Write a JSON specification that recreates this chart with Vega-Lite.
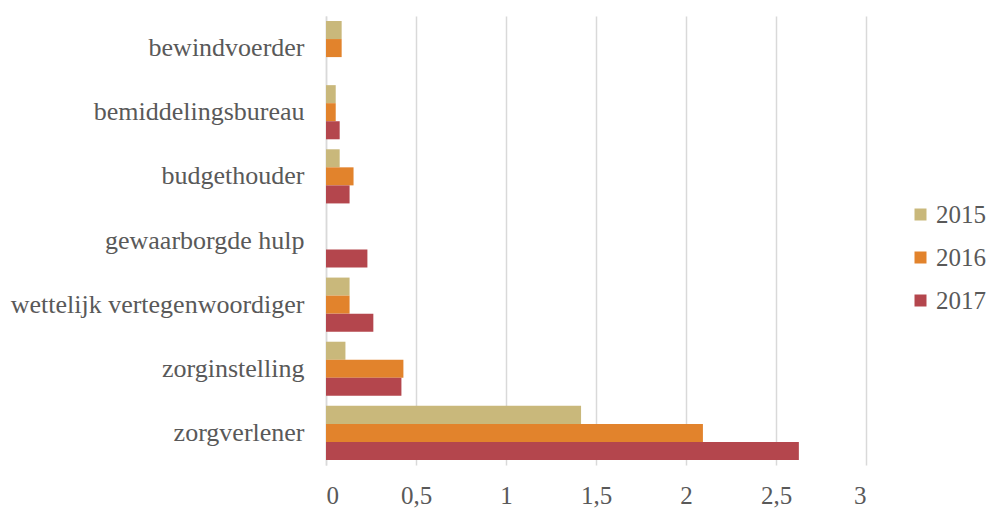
{
  "$schema": "https://vega.github.io/schema/vega-lite/v6.json",
  "width": 540,
  "height": 449,
  "autosize": {"type": "none"},
  "padding": {"left": 326, "top": 16, "right": 123, "bottom": 46},
  "background": "white",
  "data": {
    "values": [
      {"categorie": "bewindvoerder", "jaar": "2015", "waarde": 0.087},
      {"categorie": "bewindvoerder", "jaar": "2016", "waarde": 0.087},
      {"categorie": "bewindvoerder", "jaar": "2017", "waarde": 0},
      {"categorie": "bemiddelingsbureau", "jaar": "2015", "waarde": 0.054},
      {"categorie": "bemiddelingsbureau", "jaar": "2016", "waarde": 0.054},
      {"categorie": "bemiddelingsbureau", "jaar": "2017", "waarde": 0.076},
      {"categorie": "budgethouder", "jaar": "2015", "waarde": 0.076},
      {"categorie": "budgethouder", "jaar": "2016", "waarde": 0.153},
      {"categorie": "budgethouder", "jaar": "2017", "waarde": 0.131},
      {"categorie": "gewaarborgde hulp", "jaar": "2015", "waarde": 0},
      {"categorie": "gewaarborgde hulp", "jaar": "2016", "waarde": 0},
      {"categorie": "gewaarborgde hulp", "jaar": "2017", "waarde": 0.23},
      {"categorie": "wettelijk vertegenwoordiger", "jaar": "2015", "waarde": 0.131},
      {"categorie": "wettelijk vertegenwoordiger", "jaar": "2016", "waarde": 0.131},
      {"categorie": "wettelijk vertegenwoordiger", "jaar": "2017", "waarde": 0.263},
      {"categorie": "zorginstelling", "jaar": "2015", "waarde": 0.108},
      {"categorie": "zorginstelling", "jaar": "2016", "waarde": 0.43},
      {"categorie": "zorginstelling", "jaar": "2017", "waarde": 0.419},
      {"categorie": "zorgverlener", "jaar": "2015", "waarde": 1.417},
      {"categorie": "zorgverlener", "jaar": "2016", "waarde": 2.094},
      {"categorie": "zorgverlener", "jaar": "2017", "waarde": 2.627}
    ]
  },
  "mark": {"type": "bar"},
  "encoding": {
    "y": {
      "field": "categorie",
      "type": "nominal",
      "sort": ["bewindvoerder", "bemiddelingsbureau", "budgethouder", "gewaarborgde hulp", "wettelijk vertegenwoordiger", "zorginstelling", "zorgverlener"],
      "scale": {"paddingInner": 0.156, "paddingOuter": 0.078},
      "axis": {
        "title": null,
        "ticks": false,
        "domain": true,
        "domainColor": "#d9d9d9",
        "domainWidth": 1.5,
        "labelFont": "Liberation Serif",
        "labelFontSize": 26,
        "labelColor": "#595959",
        "labelPadding": 22,
        "labelLimit": 400
      }
    },
    "yOffset": {
      "field": "jaar",
      "type": "nominal",
      "scale": {"paddingInner": 0, "paddingOuter": 0}
    },
    "x": {
      "field": "waarde",
      "type": "quantitative",
      "scale": {"domain": [0, 3], "nice": false},
      "axis": {
        "title": null,
        "values": [0, 0.5, 1, 1.5, 2, 2.5, 3],
        "labelExpr": "replace(format(datum.value, ''), '.', ',')",
        "grid": true,
        "gridColor": "#d9d9d9",
        "gridWidth": 1.5,
        "domain": false,
        "ticks": false,
        "labelFont": "Liberation Serif",
        "labelFontSize": 25,
        "labelColor": "#595959",
        "labelPadding": 18
      }
    },
    "color": {
      "field": "jaar",
      "type": "nominal",
      "scale": {"domain": ["2015", "2016", "2017"], "range": ["#c9b87b", "#e2832c", "#b4464d"]},
      "legend": {
        "title": null,
        "orient": "none",
        "legendX": 582,
        "legendY": 186,
        "symbolType": "square",
        "symbolSize": 144,
        "symbolStrokeWidth": 0,
        "labelFont": "Liberation Serif",
        "labelFontSize": 25,
        "labelColor": "#595959",
        "labelOffset": 3,
        "rowPadding": 17
      }
    }
  },
  "config": {"view": {"stroke": null}}
}
